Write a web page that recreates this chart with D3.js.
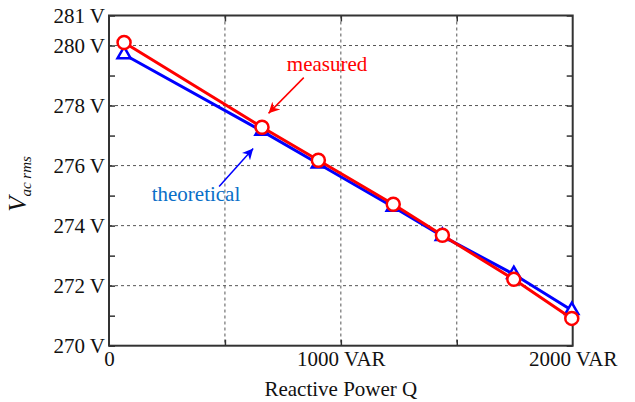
<!DOCTYPE html>
<html>
<head>
<meta charset="utf-8">
<script src="https://d3js.org/d3.v7.min.js"></script>
<style>
  body { margin: 0; background: #fff; }
  svg text { font-family: "Liberation Serif", "Times New Roman", serif; }
</style>
</head>
<body>
<script>
// data
var reactivePower = [65, 660, 903, 1226, 1438, 1746, 1996];   // VAR
var measured     = [280.1, 277.28, 276.18, 274.71, 273.68, 272.21, 270.91];
var theoretical  = [279.7, 277.15, 276.06, 274.62, 273.65, 272.38, 271.18];
var yLabelTicks = [270, 272, 274, 276, 278, 280, 281];
var yMinorTicks = [271, 273, 275, 277, 279];
var yGrid = [272, 274, 276, 278, 280];
var xLabelTicks = [0, 1000, 2000];
var xGrid = [500, 1000, 1500];

var width = 635, height = 402;
var pLeft = 109, pRight = 572.7, pTop = 15.5, pBottom = 345.7;
var red = "#ff0000", blue = "#0000ff";

var svg = d3.select("body").append("svg")
  .attr("width", width)
  .attr("height", height);

var x = d3.scaleLinear().domain([0, 2000]).range([pLeft, pRight]);
var y = d3.scaleLinear().domain([270, 281]).range([pBottom, pTop]);

// grid
svg.append("g").selectAll("line").data(yGrid).enter().append("line")
  .attr("x1", pLeft).attr("x2", pRight)
  .attr("y1", function(d) { return y(d); }).attr("y2", function(d) { return y(d); })
  .attr("stroke", "#555").attr("stroke-width", 1).attr("stroke-dasharray", "3,3");
svg.append("g").selectAll("line").data(xGrid).enter().append("line")
  .attr("y1", pTop).attr("y2", pBottom)
  .attr("x1", function(d) { return x(d); }).attr("x2", function(d) { return x(d); })
  .attr("stroke", "#555").attr("stroke-width", 1).attr("stroke-dasharray", "3,3");

// ticks inward on all four sides
function tickStyle(g) {
  g.select(".domain").remove();
  g.selectAll(".tick line").attr("stroke", "#333").attr("stroke-width", 1.5);
  g.selectAll(".tick text").remove();
}
var yTicks = yLabelTicks.concat(yMinorTicks);
svg.append("g").attr("transform", "translate(" + pLeft + ",0)")
  .call(d3.axisLeft(y).tickValues(yTicks).tickSize(-6)).call(tickStyle);
svg.append("g").attr("transform", "translate(" + pRight + ",0)")
  .call(d3.axisRight(y).tickValues(yTicks).tickSize(-6)).call(tickStyle);
svg.append("g").attr("transform", "translate(0," + pBottom + ")")
  .call(d3.axisBottom(x).tickValues(xGrid).tickSize(-6)).call(tickStyle);
svg.append("g").attr("transform", "translate(0," + pTop + ")")
  .call(d3.axisTop(x).tickValues(xGrid).tickSize(-6)).call(tickStyle);

// tick labels
var yAxis = svg.append("g").attr("transform", "translate(" + (pLeft - 4) + ",0)")
  .call(d3.axisLeft(y).tickValues(yLabelTicks).tickSize(0).tickPadding(0)
    .tickFormat(function(d) { return d + " V"; }));
yAxis.select(".domain").remove();
yAxis.selectAll("text").attr("font-size", 21).attr("fill", "#111")
  .attr("font-family", "Liberation Serif").attr("dy", "0.33em");

var xAxis = svg.append("g").attr("transform", "translate(0," + pBottom + ")")
  .call(d3.axisBottom(x).tickValues(xLabelTicks).tickSize(0).tickPadding(0)
    .tickFormat(function(d) { return d === 0 ? "0" : d + " VAR"; }));
xAxis.select(".domain").remove();
xAxis.selectAll("text").attr("font-size", 21).attr("fill", "#111")
  .attr("font-family", "Liberation Serif").attr("dy", "0.95em");

// frame
svg.append("rect")
  .attr("x", pLeft).attr("y", pTop)
  .attr("width", pRight - pLeft).attr("height", pBottom - pTop)
  .attr("fill", "none").attr("stroke", "#333").attr("stroke-width", 2);

// series
var line = d3.line()
  .x(function(d) { return x(d.q); })
  .y(function(d) { return y(d.v); });

var theoData = reactivePower.map(function(q, i) { return {q: q, v: theoretical[i]}; });
var measData = reactivePower.map(function(q, i) { return {q: q, v: measured[i]}; });

svg.append("path").attr("d", line(theoData))
  .attr("fill", "none").attr("stroke", blue).attr("stroke-width", 3);
svg.append("g").selectAll("path").data(theoData).enter().append("path")
  .attr("d", d3.symbol().type(d3.symbolTriangle).size(75))
  .attr("transform", function(d) { return "translate(" + x(d.q) + "," + y(d.v) + ")"; })
  .attr("fill", "#fff").attr("stroke", blue).attr("stroke-width", 2.5);

svg.append("path").attr("d", line(measData))
  .attr("fill", "none").attr("stroke", red).attr("stroke-width", 3);
svg.append("g").selectAll("circle").data(measData).enter().append("circle")
  .attr("cx", function(d) { return x(d.q); })
  .attr("cy", function(d) { return y(d.v); })
  .attr("r", 6.5)
  .attr("fill", "#fff").attr("stroke", red).attr("stroke-width", 2.5);

// annotations with arrows
var defs = svg.append("defs");
function marker(id, color) {
  defs.append("marker").attr("id", id)
    .attr("viewBox", "0 0 10 10").attr("refX", 10).attr("refY", 5)
    .attr("markerWidth", 11).attr("markerHeight", 11)
    .attr("markerUnits", "userSpaceOnUse").attr("orient", "auto")
    .append("path").attr("d", "M0,0 L10,5 L0,10 L3,5 Z").attr("fill", color);
}
marker("arrRed", red);
marker("arrBlue", blue);

svg.append("line").attr("x1", x(840)).attr("y1", y(278.93))
  .attr("x2", x(688)).attr("y2", y(277.74))
  .attr("stroke", red).attr("stroke-width", 1.5).attr("marker-end", "url(#arrRed)");
svg.append("text").attr("x", x(767)).attr("y", 71)
  .attr("font-size", 21).attr("fill", red).text("measured");

svg.append("line").attr("x1", x(475)).attr("y1", y(275.3))
  .attr("x2", x(622)).attr("y2", y(276.57))
  .attr("stroke", blue).attr("stroke-width", 1.5).attr("marker-end", "url(#arrBlue)");
svg.append("text").attr("x", x(184)).attr("y", 201)
  .attr("font-size", 21).attr("fill", "#0a6fc8").text("theoretical");

// axis titles
svg.append("text")
  .attr("x", (pLeft + pRight) / 2).attr("y", 396)
  .attr("text-anchor", "middle").attr("font-size", 21).attr("fill", "#111")
  .text("Reactive Power Q");

var yt = svg.append("text")
  .attr("transform", "translate(26,184) rotate(-90)")
  .attr("text-anchor", "middle").attr("fill", "#111").attr("font-style", "italic");
yt.append("tspan").attr("font-size", 25).text("V");
yt.append("tspan").attr("font-size", 15).attr("dy", 5).text("ac rms");
</script>
</body>
</html>
